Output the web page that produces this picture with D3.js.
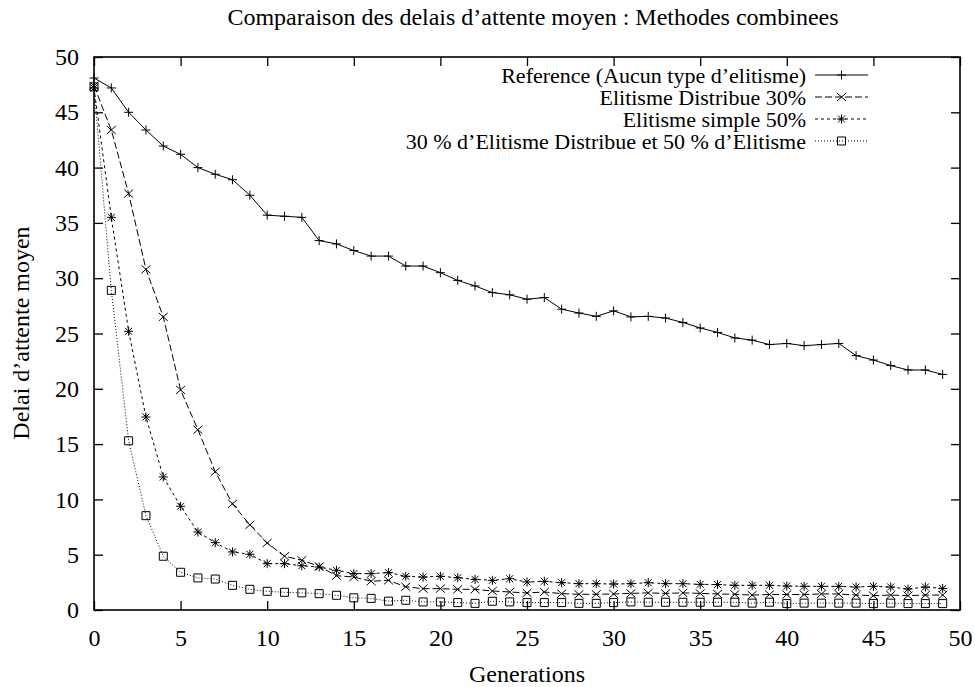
<!DOCTYPE html>
<html>
<head>
<meta charset="utf-8">
<script src="https://cdn.jsdelivr.net/npm/d3@7"></script>
<style>
  html, body { margin: 0; padding: 0; background: #fff; }
  svg { display: block; font-family: "Liberation Serif", "Times New Roman", serif; }
</style>
</head>
<body>
<svg id="chart" width="975" height="687"></svg>
<script>
const generations = d3.range(0, 50);
const xTicks = [0, 5, 10, 15, 20, 25, 30, 35, 40, 45, 50];
const yTicks = [0, 5, 10, 15, 20, 25, 30, 35, 40, 45, 50];

const seriesNames = [
  "Reference (Aucun type d\u2019elitisme)",
  "Elitisme Distribue 30%",
  "Elitisme simple 50%",
  "30 % d\u2019Elitisme Distribue et 50 % d\u2019Elitisme"
];

const reference = [48.1, 47.2, 45.0, 43.4, 41.95, 41.2, 40.0, 39.4, 38.9, 37.5,
  35.7, 35.6, 35.5, 33.4, 33.1, 32.5, 32.0, 32.0, 31.1, 31.1,
  30.5, 29.8, 29.3, 28.7, 28.5, 28.1, 28.25, 27.2, 26.85, 26.55,
  27.05, 26.5, 26.55, 26.4, 26.0, 25.5, 25.1, 24.6, 24.4, 24.0,
  24.1, 23.9, 24.0, 24.1, 23.0, 22.6, 22.1, 21.7, 21.7, 21.3];

const distribue30 = [47.4, 43.4, 37.65, 30.8, 26.5, 19.9, 16.3, 12.5, 9.6, 7.7,
  6.06, 4.86, 4.5, 3.95, 3.1, 2.98, 2.6, 2.68, 2.1, 1.93,
  1.93, 1.87, 1.87, 1.72, 1.63, 1.54, 1.63, 1.48, 1.42, 1.42,
  1.45, 1.5, 1.55, 1.5, 1.55, 1.5, 1.45, 1.42, 1.35, 1.4,
  1.4, 1.4, 1.45, 1.45, 1.35, 1.3, 1.35, 1.3, 1.35, 1.35];

const simple50 = [47.2, 35.5, 25.2, 17.45, 12.03, 9.38, 7.05, 6.09, 5.25, 5.04,
  4.19, 4.19, 4.0, 3.89, 3.59, 3.29, 3.29, 3.38, 3.05, 2.98,
  3.05, 2.92, 2.77, 2.68, 2.83, 2.53, 2.59, 2.47, 2.38, 2.38,
  2.35, 2.38, 2.47, 2.38, 2.38, 2.32, 2.3, 2.23, 2.23, 2.23,
  2.17, 2.14, 2.14, 2.14, 2.08, 2.14, 2.08, 1.9, 2.08, 1.95];

const combinee = [47.3, 28.9, 15.3, 8.53, 4.86, 3.41, 2.9, 2.8, 2.23, 1.87,
  1.69, 1.6, 1.55, 1.48, 1.33, 1.1, 1.05, 0.8, 0.88, 0.73,
  0.73, 0.67, 0.6, 0.79, 0.73, 0.67, 0.67, 0.67, 0.6, 0.6,
  0.67, 0.73, 0.7, 0.7, 0.7, 0.7, 0.7, 0.7, 0.62, 0.7,
  0.58, 0.62, 0.62, 0.62, 0.62, 0.58, 0.62, 0.58, 0.58, 0.58];

const seriesValues = [reference, distribue30, simple50, combinee];

// styles
const dashes = [null, "7,3", "3,3", "1,2"];
const markerPaths = [
  "M-4.5,0H4.5M0,-4.5V4.5",
  "M-4.5,-4L4.5,4M-4.5,4L4.5,-4",
  "M-4.5,0H4.5M0,-4.5V4.5M-3.5,-3.5L3.5,3.5M-3.5,3.5L3.5,-3.5",
  "M-4,-4H4V4H-4Z"
];

const svg = d3.select("#chart");
const W = 975, H = 687;
const margin = {left: 94, right: 15, top: 57, bottom: 77};
const x = d3.scaleLinear().domain([0, 50]).range([margin.left, W - margin.right]);
const y = d3.scaleLinear().domain([0, 50]).range([H - margin.bottom, margin.top]);

const tickLen = 9;
const xAxisB = d3.axisBottom(x).tickValues(xTicks).tickSize(-tickLen).tickPadding(19).tickFormat(d3.format("d"));
const xAxisT = d3.axisTop(x).tickValues(xTicks).tickSize(-tickLen).tickFormat("");
const yAxisL = d3.axisLeft(y).tickValues(yTicks).tickSize(-tickLen).tickPadding(15).tickFormat(d3.format("d"));
const yAxisR = d3.axisRight(y).tickValues(yTicks).tickSize(-tickLen).tickFormat("");

function styleAxis(g) {
  g.select(".domain").remove();
  g.selectAll(".tick line").attr("stroke", "#000").attr("stroke-width", 1.3);
  g.selectAll("text").attr("font-family", "Liberation Serif").attr("font-size", 24).attr("fill", "#000");
}

svg.append("g").attr("transform", `translate(0,${y(0)})`).call(xAxisB).call(styleAxis);
svg.append("g").attr("transform", `translate(0,${y(50)})`).call(xAxisT).call(styleAxis);
svg.append("g").attr("transform", `translate(${x(0)},0)`).call(yAxisL).call(styleAxis);
svg.append("g").attr("transform", `translate(${x(50)},0)`).call(yAxisR).call(styleAxis);

svg.append("rect")
  .attr("x", x(0)).attr("y", y(50))
  .attr("width", x(50) - x(0)).attr("height", y(0) - y(50))
  .attr("fill", "none").attr("stroke", "#000").attr("stroke-width", 1.6);

// titles
svg.append("text").attr("x", 533).attr("y", 25).attr("text-anchor", "middle")
  .attr("font-size", 24).text("Comparaison des delais d\u2019attente moyen : Methodes combinees");
svg.append("text").attr("x", 527).attr("y", 682).attr("text-anchor", "middle")
  .attr("font-size", 24).text("Generations");
svg.append("text").attr("transform", "translate(29,333) rotate(-90)").attr("text-anchor", "middle")
  .attr("font-size", 24).text("Delai d\u2019attente moyen");

// series
const line = d3.line().x((d, i) => x(generations[i])).y(d => y(d));
seriesValues.forEach((vals, s) => {
  const g = svg.append("g");
  g.append("path").datum(vals).attr("d", line)
    .attr("fill", "none").attr("stroke", "#000").attr("stroke-width", 1)
    .attr("stroke-dasharray", dashes[s]);
  g.selectAll("path.m").data(vals).join("path").attr("class", "m")
    .attr("transform", (d, i) => `translate(${x(generations[i])},${y(d)})`)
    .attr("d", markerPaths[s]).attr("fill", "none").attr("stroke", "#000").attr("stroke-width", 1);
});

// legend
const legX = 806, sampleX1 = 815, sampleX2 = 868;
seriesNames.forEach((name, s) => {
  const cy = 75 + s * 22;
  svg.append("text").attr("x", legX).attr("y", cy + 8).attr("text-anchor", "end")
    .attr("font-size", 22).text(name);
  svg.append("line").attr("x1", sampleX1).attr("x2", sampleX2).attr("y1", cy).attr("y2", cy)
    .attr("stroke", "#000").attr("stroke-width", 1).attr("stroke-dasharray", dashes[s]);
  svg.append("path").attr("transform", `translate(${(sampleX1 + sampleX2) / 2},${cy})`)
    .attr("d", markerPaths[s]).attr("fill", "none").attr("stroke", "#000").attr("stroke-width", 1);
});
</script>
</body>
</html>
